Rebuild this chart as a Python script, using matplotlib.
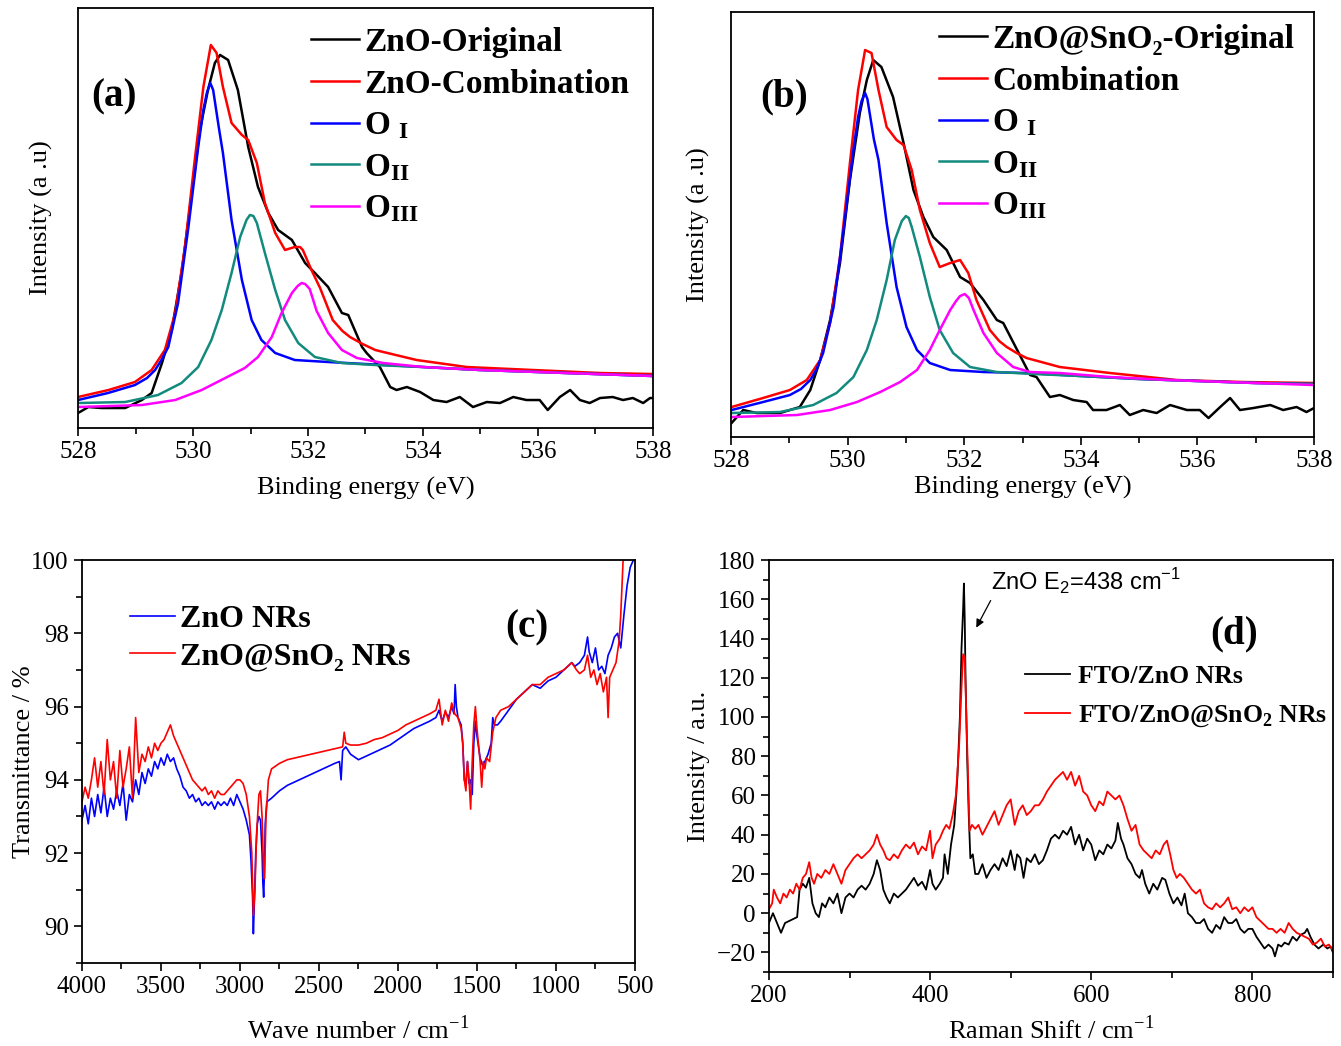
import numpy as np
import matplotlib
matplotlib.use('Agg')
import matplotlib.pyplot as plt
from matplotlib.ticker import MultipleLocator

plt.rcParams['font.family'] = ['Liberation Serif', 'DejaVu Serif']
plt.rcParams['mathtext.fontset'] = 'custom'
plt.rcParams['mathtext.rm'] = 'Liberation Serif'
plt.rcParams['mathtext.bf'] = 'Liberation Serif:bold'
plt.rcParams['mathtext.sf'] = 'Liberation Sans'

# ---------------- (a) XPS O1s, ZnO ----------------
a_orig_x = [528.0, 528.18, 528.41, 528.82, 529.11, 529.28, 529.46, 529.63, 529.80, 529.98,
            530.12, 530.26, 530.38, 530.47, 530.61, 530.78, 530.96, 531.13, 531.31, 531.48,
            531.72, 531.95, 532.12, 532.35, 532.59, 532.70, 532.94, 533.02, 533.25, 533.43,
            533.54, 533.72, 533.95, 534.18, 534.41, 534.64, 534.87, 535.11, 535.34, 535.57,
            535.80, 536.03, 536.17, 536.38, 536.56, 536.73, 536.90, 537.08, 537.30, 537.48,
            537.65, 537.83, 537.95, 538.0]
a_orig_y = [15, 21, 20, 20, 28, 35, 65, 98, 155, 235,
            298, 338, 365, 373, 368, 338, 281, 241, 215, 198,
            188, 165, 155, 141, 115, 113, 81, 75, 61, 41,
            38, 41, 36, 28, 26, 31, 21, 26, 25, 31,
            28, 28, 18, 31, 38, 28, 25, 30, 31, 28,
            30, 25, 30, 30]
a_comb_x = [528.0, 528.53, 528.99, 529.28, 529.51, 529.69, 529.86, 530.03, 530.18, 530.31,
            530.41, 530.52, 530.67, 530.85, 530.96, 531.11, 531.25, 531.43, 531.60, 531.77,
            531.86, 531.91, 532.06, 532.21, 532.43, 532.60, 532.73, 532.95, 533.17, 533.31,
            533.89, 534.76, 535.92, 537.08, 538.0]
a_comb_y = [31, 38, 46, 58, 78, 115, 181, 268, 341, 383,
            375, 341, 305, 293, 288, 265, 225, 195, 178, 181,
            181, 178, 158, 140, 108, 97, 91, 84, 78, 76,
            68, 61, 58, 55, 54]
a_o1_x = [528.0, 528.52, 528.99, 529.20, 529.34, 529.45, 529.57, 529.74, 529.92, 530.09,
          530.18, 530.24, 530.30, 530.35, 530.45, 530.52, 530.67, 530.85, 531.02, 531.19,
          531.43, 531.77, 532.35, 533.0, 534.0, 535.0, 536.0, 537.0, 538.0]
a_o1_y = [28, 35, 43, 50, 58, 68, 81, 125, 201, 281,
          318, 335, 345, 338, 300, 275, 208, 148, 108, 88,
          75, 68, 66, 64, 61, 58, 56, 54, 52]
a_o2_x = [528.0, 528.82, 529.39, 529.80, 530.09, 530.32, 530.50, 530.67, 530.82, 530.93,
          530.99, 531.05, 531.11, 531.25, 531.43, 531.60, 531.83, 532.12, 532.59, 533.17,
          534.0, 535.0, 536.0, 537.0, 538.0]
a_o2_y = [25, 26, 33, 45, 61, 88, 118, 155, 191, 208,
          213, 212, 205, 175, 138, 108, 85, 71, 65, 63,
          61, 58, 56, 54, 52]
a_o3_x = [528.0, 529.11, 529.69, 530.15, 530.56, 530.90, 531.13, 531.37, 531.54, 531.72,
          531.82, 531.89, 531.95, 532.03, 532.15, 532.35, 532.59, 532.85, 533.31, 534.0,
          535.0, 536.0, 537.0, 538.0]
a_o3_y = [21, 23, 28, 38, 50, 60, 71, 91, 115, 135,
          142, 145, 144, 139, 117, 95, 78, 70, 65, 61,
          58, 56, 54, 52]

# ---------------- (b) XPS O1s, ZnO@SnO2 ----------------
b_orig_x = [528.01, 528.21, 528.44, 528.84, 529.18, 529.36, 529.53, 529.70, 529.87, 530.04,
            530.21, 530.33, 530.44, 530.58, 530.78, 530.96, 531.13, 531.30, 531.47, 531.70,
            531.93, 532.10, 532.33, 532.56, 532.67, 532.90, 533.13, 533.24, 533.47, 533.64,
            533.87, 534.10, 534.21, 534.44, 534.67, 534.84, 535.07, 535.30, 535.53, 535.82,
            536.04, 536.19, 536.39, 536.56, 536.73, 536.96, 537.25, 537.47, 537.70, 537.87,
            538.0]
b_orig_y = [14, 27, 24, 24, 30, 47, 77, 117, 174, 257,
            324, 357, 377, 370, 340, 294, 247, 220, 200, 187,
            160, 154, 137, 117, 114, 88, 62, 60, 40, 42,
            37, 35, 27, 27, 32, 22, 27, 24, 32, 27,
            27, 19, 30, 39, 27, 29, 32, 27, 30, 25,
            29]
b_comb_x = [528.01, 528.55, 529.01, 529.30, 529.53, 529.70, 529.87, 530.04, 530.18, 530.30,
            530.41, 530.53, 530.67, 530.84, 530.96, 531.10, 531.24, 531.41, 531.58, 531.76,
            531.93, 532.07, 532.21, 532.44, 532.60, 532.73, 532.90, 533.07, 533.64, 534.50,
            535.65, 536.79, 538.0]
b_comb_y = [30, 39, 47, 57, 77, 114, 180, 274, 347, 387,
            384, 347, 310, 297, 292, 267, 227, 194, 170, 174,
            177, 164, 137, 107, 96, 90, 84, 79, 70, 64,
            57, 55, 54]
b_o1_x = [528.01, 528.55, 529.01, 529.20, 529.36, 529.47, 529.58, 529.76, 529.93, 530.10,
          530.18, 530.24, 530.30, 530.34, 530.45, 530.53, 530.67, 530.84, 531.01, 531.19,
          531.41, 531.76, 532.33, 533.07, 534.0, 535.0, 536.0, 537.0, 538.0]
b_o1_y = [27, 35, 42, 48, 57, 68, 84, 130, 207, 287,
          320, 336, 344, 338, 298, 277, 214, 150, 110, 87,
          74, 67, 65, 64, 61, 58, 56, 54, 53]
b_o2_x = [528.01, 528.84, 529.41, 529.81, 530.10, 530.33, 530.50, 530.67, 530.81, 530.93,
          531.00, 531.05, 531.10, 531.24, 531.41, 531.58, 531.81, 532.10, 532.56, 533.2,
          534.0, 535.0, 536.0, 537.0, 538.0]
b_o2_y = [24, 25, 32, 44, 60, 87, 117, 157, 197, 216,
          221, 219, 210, 180, 140, 107, 84, 70, 65, 63,
          61, 58, 56, 54, 53]
b_o3_x = [528.01, 529.13, 529.70, 530.16, 530.56, 530.90, 531.19, 531.41, 531.58, 531.76,
          531.86, 531.93, 532.01, 532.08, 532.16, 532.33, 532.56, 532.84, 533.13, 533.64,
          534.5, 535.5, 536.5, 538.0]
b_o3_y = [20, 22, 27, 35, 45, 55, 67, 87, 107, 127,
          136, 141, 143, 139, 127, 104, 84, 70, 65, 64,
          60, 57, 55, 52]

# ---------------- (c) FTIR ----------------
c_zno_x = [4000, 3980, 3960, 3940, 3920, 3900, 3880, 3860, 3840, 3820,
           3800, 3780, 3760, 3740, 3720, 3700, 3680, 3660, 3640, 3620,
           3600, 3580, 3560, 3540, 3520, 3500, 3480, 3460, 3440, 3420,
           3400, 3380, 3360, 3340, 3320, 3300, 3280, 3260, 3240, 3220,
           3200, 3180, 3160, 3140, 3120, 3100, 3080, 3060, 3040, 3020,
           3000, 2980, 2960, 2940, 2930, 2920, 2915, 2910, 2900, 2890,
           2880, 2870, 2860, 2855, 2850, 2845, 2840, 2830, 2800, 2750,
           2700, 2650, 2600, 2550, 2500, 2450, 2400, 2370, 2360, 2350,
           2330, 2300, 2250, 2200, 2150, 2100, 2050, 2000, 1950, 1900,
           1850, 1800, 1760, 1740, 1720, 1700, 1680, 1660, 1645, 1638,
           1630, 1620, 1600, 1590, 1580, 1570, 1560, 1550, 1540, 1530,
           1520, 1510, 1500, 1480, 1465, 1450, 1430, 1410, 1400, 1390,
           1370, 1350, 1300, 1250, 1200, 1150, 1100, 1050, 1000, 950,
           900, 880, 850, 820, 800, 790, 770, 750, 730, 710,
           690, 670, 650, 630, 610, 590, 570, 550, 530, 510]
c_zno_y = [92.9, 93.3, 92.8, 93.5, 93.0, 93.6, 93.1, 93.8, 93.0, 93.5,
           93.2, 93.7, 93.3, 93.9, 92.9, 93.6, 93.4, 94.0, 93.6, 94.2,
           93.9, 94.3, 94.1, 94.5, 94.3, 94.6, 94.4, 94.7, 94.5, 94.6,
           94.3, 94.1, 93.8, 93.7, 93.5, 93.6, 93.4, 93.5, 93.3, 93.4,
           93.3, 93.4, 93.2, 93.4, 93.3, 93.4, 93.3, 93.5, 93.3, 93.6,
           93.4, 93.2, 92.9, 92.5, 91.8, 90.8, 89.8, 90.5, 92.0, 92.8,
           93.0, 92.9, 92.0, 91.2, 90.8, 91.5, 92.8, 93.4, 93.5, 93.7,
           93.85, 93.95, 94.05, 94.15, 94.25, 94.35, 94.45, 94.5, 94.0, 94.8,
           94.9, 94.7, 94.55, 94.65, 94.75, 94.85, 94.95, 95.1, 95.25, 95.4,
           95.5, 95.6, 95.7, 95.9, 95.6, 95.85, 95.7, 96.0, 95.8, 96.6,
           96.0, 95.7, 95.5, 95.0, 94.0, 93.9, 94.5, 93.9, 94.0, 93.6,
           95.0, 95.6, 95.2, 94.6, 94.4, 94.5, 94.7, 95.0, 95.7, 95.5,
           95.5, 95.6, 95.9, 96.2, 96.4, 96.6, 96.5, 96.7, 96.8, 97.0,
           97.2, 97.1, 97.2, 97.4, 97.9, 97.5, 97.2, 97.6, 97.0, 97.1,
           96.9, 97.4, 97.6, 97.9, 98.0, 97.6, 98.5, 99.3, 99.8, 100.0]
c_sno_x = [4000, 3980, 3960, 3940, 3920, 3900, 3880, 3860, 3840, 3820,
           3800, 3780, 3760, 3740, 3720, 3700, 3680, 3660, 3640, 3620,
           3600, 3580, 3560, 3540, 3520, 3500, 3480, 3460, 3440, 3420,
           3400, 3380, 3360, 3340, 3320, 3300, 3280, 3260, 3240, 3220,
           3200, 3180, 3160, 3140, 3120, 3100, 3080, 3060, 3040, 3020,
           3000, 2980, 2960, 2940, 2925, 2915, 2905, 2895, 2880, 2870,
           2860, 2850, 2845, 2835, 2820, 2800, 2750, 2700, 2650, 2600,
           2550, 2500, 2450, 2400, 2350, 2340, 2330, 2300, 2250, 2200,
           2150, 2100, 2050, 2000, 1950, 1900, 1850, 1800, 1760, 1740,
           1720, 1700, 1680, 1660, 1640, 1620, 1600, 1590, 1580, 1570,
           1560, 1550, 1540, 1530, 1520, 1510, 1500, 1480, 1470, 1460,
           1450, 1440, 1420, 1400, 1380, 1350, 1300, 1250, 1200, 1150,
           1100, 1050, 1000, 950, 900, 870, 850, 820, 800, 780,
           760, 740, 720, 700, 680, 670, 660, 640, 620, 600,
           590, 580, 575]
c_sno_y = [93.4, 93.8, 93.5, 94.0, 94.6, 93.8, 94.5, 93.6, 95.1, 94.0,
           94.5, 93.5, 94.8, 93.8, 94.3, 94.9, 93.5, 95.7, 94.2, 94.7,
           94.5, 94.9, 94.6, 95.0, 94.8, 95.0, 95.1, 95.3, 95.5, 95.2,
           95.0, 94.8, 94.6, 94.4, 94.2, 94.0, 93.9, 93.8, 93.7, 93.8,
           93.6, 93.7, 93.5, 93.7, 93.6, 93.6, 93.7, 93.8, 93.9, 94.0,
           94.0, 93.9, 93.6, 93.0, 92.0, 90.3, 91.0, 92.5, 93.6, 93.7,
           93.0, 91.5, 91.3, 93.0, 94.0, 94.3, 94.45, 94.55, 94.6, 94.65,
           94.7, 94.75, 94.8, 94.85, 94.9, 95.3, 95.0, 94.95, 94.95, 95.0,
           95.1, 95.15, 95.25, 95.35, 95.5, 95.6, 95.7, 95.8, 95.9, 96.2,
           95.5, 95.9, 95.6, 96.1, 95.8, 95.7, 95.4, 95.0, 94.0, 93.7,
           94.5, 94.0, 93.2, 94.5, 95.5, 96.0, 95.4, 94.5, 93.8, 94.5,
           94.3, 94.6, 94.5, 95.3, 95.7, 95.9, 96.0, 96.2, 96.4, 96.6,
           96.6, 96.8, 96.9, 97.0, 97.2, 97.0, 96.9, 97.0, 97.4, 96.8,
           97.0, 96.6, 96.9, 96.4, 96.8, 95.7, 96.8, 97.0, 97.2, 97.8,
           98.5, 99.5, 100.0]

# ---------------- (d) Raman ----------------
d_zno_x = [200, 205, 210, 215, 220, 225, 230, 235, 238, 242, 246, 250, 254, 258, 262, 266,
           270, 275, 280, 285, 290, 295, 300, 305, 310, 315, 320, 325, 330, 334, 338, 342,
           346, 350, 355, 360, 365, 370, 375, 380, 385, 390, 395, 400, 403, 407, 412, 416,
           418, 422, 426, 430, 434, 437, 439, 441, 442, 443, 444, 446, 448, 450, 453, 456,
           460, 465, 470, 475, 480, 485, 490, 495, 500, 505, 508, 512, 516, 520, 525, 530,
           535, 540, 545, 550, 555, 560, 565, 570, 575, 580, 585, 590, 595, 600, 605, 610,
           615, 620, 625, 630, 633, 637, 640, 645, 650, 655, 660, 663, 667, 672, 677, 682,
           688, 692, 697, 702, 707, 712, 716, 720, 725, 730, 735, 740, 745, 750, 755, 760,
           765, 770, 775, 780, 785, 790, 795, 800, 805, 810, 815, 820, 825, 828, 832, 836,
           840, 845, 850, 855, 860, 865, 868, 872, 877, 882, 888, 893, 897, 900]
d_zno_y = [-5, 0, -5, -10, -5, -4, -3, -2, 12, 15, 13, 18, 5, 0, -2, 5,
           3, 8, 5, 10, 0, 8, 10, 8, 12, 14, 12, 15, 20, 27, 22, 12,
           8, 5, 10, 8, 10, 12, 15, 18, 14, 16, 12, 22, 15, 12, 15, 18,
           30, 20, 35, 45, 70, 100, 135, 155, 168, 150, 120, 80, 50, 28, 30, 20,
           20, 25, 18, 22, 25, 22, 28, 24, 32, 22, 30, 28, 18, 28, 26, 30,
           25, 27, 32, 38, 40, 38, 42, 40, 44, 35, 40, 32, 38, 35, 27, 32,
           30, 35, 33, 37, 46, 38, 35, 28, 25, 20, 18, 22, 15, 10, 15, 12,
           18, 17, 10, 5, 8, 4, 10, 0, -2, -5, -5, -3, -8, -10, -6, -8,
           -2, -5, -5, -3, -8, -10, -8, -8, -12, -15, -18, -16, -18, -22, -16, -17,
           -15, -16, -12, -14, -11, -10, -8, -12, -16, -18, -16, -18, -17, -20]
d_sno_x = [200, 204, 206, 210, 214, 218, 222, 226, 230, 234, 238, 242, 246, 250, 253, 256,
           260, 265, 270, 275, 280, 285, 290, 295, 300, 305, 310, 315, 320, 325, 330, 334,
           338, 342, 346, 350, 355, 360, 365, 370, 375, 380, 385, 390, 395, 400, 403, 407,
           412, 416, 420, 424, 428, 432, 436, 439, 441, 443, 445, 447, 449, 452, 456, 460,
           465, 470, 475, 480, 485, 490, 495, 500, 505, 510, 515, 520, 525, 530, 535, 540,
           545, 550, 555, 560, 565, 570, 575, 580, 585, 590, 595, 600, 605, 610, 615, 620,
           625, 630, 635, 640, 645, 650, 655, 660, 665, 670, 675, 680, 685, 690, 694, 698,
           702, 706, 710, 715, 720, 725, 730, 735, 740, 745, 750, 755, 760, 765, 770, 775,
           780, 785, 790, 795, 800, 805, 810, 815, 820, 825, 830, 835, 840, 845, 850, 855,
           860, 865, 870, 875, 880, 885, 890, 895, 900]
d_sno_y = [2, 5, 12, 8, 5, 10, 8, 12, 10, 15, 12, 18, 20, 26, 18, 15,
           20, 18, 22, 20, 25, 20, 15, 22, 25, 28, 30, 28, 30, 32, 35, 40,
           35, 32, 28, 27, 30, 28, 32, 35, 33, 36, 30, 34, 32, 42, 28, 35,
           38, 42, 45, 43, 50, 60, 85, 115, 132, 130, 100, 70, 42, 45, 43, 45,
           40, 44, 48, 52, 45, 50, 55, 58, 45, 52, 55, 50, 52, 55, 55, 58,
           62, 65, 68, 70, 72, 68, 72, 65, 70, 62, 60, 55, 52, 57, 55, 62,
           60, 58, 60, 55, 48, 42, 45, 35, 32, 30, 28, 32, 30, 35, 37, 30,
           22, 18, 20, 18, 15, 12, 10, 12, 5, 3, 2, 5, 3, 5, 8, 2,
           3, 0, 3, 1, 3, -2, -4, -6, -8, -8, -10, -8, -10, -5, -8, -10,
           -11, -12, -13, -16, -15, -13, -17, -16, -19]

xps_labels_a = ['ZnO-Original', 'ZnO-Combination', r'O $\mathbf{_I}$', r'O$\mathbf{_{II}}$', r'O$\mathbf{_{III}}$']
xps_labels_b = ['ZnO@SnO\u2082-Original', 'Combination', r'O $\mathbf{_I}$', r'O$\mathbf{_{II}}$', r'O$\mathbf{_{III}}$']
xps_colors = ['black', 'red', 'blue', '#138a7e', 'magenta']

fig = plt.figure(figsize=(13.41, 10.46), dpi=100)
ax_a = fig.add_axes([0.0582, 0.5908, 0.4287, 0.4016])
ax_b = fig.add_axes([0.5451, 0.5822, 0.4348, 0.4063])
ax_c = fig.add_axes([0.0611, 0.0793, 0.4124, 0.3853])
ax_d = fig.add_axes([0.5734, 0.0707, 0.4206, 0.3939])

TICK = 18
LAB = 19


def style(ax):
    for s in ax.spines.values():
        s.set_linewidth(1.3)
    ax.tick_params(direction='out', labelsize=TICK, width=1.2, length=6, top=False, right=False)
    ax.tick_params(which='minor', direction='out', width=1.2, length=4, top=False, right=False)


# XPS panels
for ax, data, labels, tag, ymax, yl_x, xl_y, leg_anchor, tag_pos in [
        (ax_a, [(a_orig_x, a_orig_y), (a_comb_x, a_comb_y), (a_o1_x, a_o1_y), (a_o2_x, a_o2_y), (a_o3_x, a_o3_y)],
         xps_labels_a, '(a)', 420, -0.0435, -0.117, (0.405, 0.955), (0.063, 0.788)),
        (ax_b, [(b_orig_x, b_orig_y), (b_comb_x, b_comb_y), (b_o1_x, b_o1_y), (b_o2_x, b_o2_y), (b_o3_x, b_o3_y)],
         xps_labels_b, '(b)', 425, -0.036, -0.092, (0.356, 0.972), (0.091, 0.80))]:
    for (x, y), lab, col in zip(data, labels, xps_colors):
        ax.plot(x, y, color=col, lw=1.8, label=lab)
    ax.set_xlim(528, 538)
    ax.set_ylim(0, ymax)
    ax.xaxis.set_major_locator(MultipleLocator(2))
    ax.xaxis.set_minor_locator(MultipleLocator(1))
    ax.set_yticks([])
    style(ax)
    ax.set_xlabel('Binding energy (eV)', fontsize=LAB)
    ax.set_ylabel('Intensity (a .u)', fontsize=LAB)
    ax.xaxis.set_label_coords(0.5, xl_y)
    ax.yaxis.set_label_coords(yl_x, 0.5)
    ax.legend(loc='upper left', bbox_to_anchor=leg_anchor, frameon=False, borderpad=0,
              borderaxespad=0, handlelength=1.45, handletextpad=0.15, labelspacing=0.32,
              prop={'weight': 'bold', 'size': 24})
    ax.text(tag_pos[0], tag_pos[1], tag, transform=ax.transAxes, fontsize=28,
            fontweight='bold', ha='center', va='center')

# FTIR panel
ax_c.plot(c_zno_x, c_zno_y, color='blue', lw=1.2, label='ZnO NRs')
ax_c.plot(c_sno_x, c_sno_y, color='red', lw=1.2, label='ZnO@SnO\u2082 NRs')
ax_c.set_xlim(4000, 500)
ax_c.set_ylim(89.0, 100)
ax_c.set_xticks([4000, 3500, 3000, 2500, 2000, 1500, 1000, 500])
ax_c.xaxis.set_minor_locator(MultipleLocator(250))
ax_c.set_yticks([90, 92, 94, 96, 98, 100])
ax_c.yaxis.set_minor_locator(MultipleLocator(1))
style(ax_c)
ax_c.set_xlabel('Wave number / cm$^{-1}$', fontsize=LAB)
ax_c.set_ylabel('Transmittance / %', fontsize=LAB)
ax_c.xaxis.set_label_coords(0.5, -0.129)
ax_c.yaxis.set_label_coords(-0.085, 0.5)
ax_c.legend(loc='upper left', bbox_to_anchor=(0.087, 0.890), frameon=False, borderpad=0,
            borderaxespad=0, handlelength=1.4, handletextpad=0.16, labelspacing=0.26,
            prop={'weight': 'bold', 'size': 23})
ax_c.text(0.805, 0.831, '(c)', transform=ax_c.transAxes, fontsize=28,
          fontweight='bold', ha='center', va='center')

# Raman panel
ax_d.plot(d_zno_x, d_zno_y, color='black', lw=1.3, label='FTO/ZnO NRs')
ax_d.plot(d_sno_x, d_sno_y, color='red', lw=1.3, label='FTO/ZnO@SnO$_\\mathbf{2}$ NRs')
ax_d.set_xlim(200, 900)
ax_d.set_ylim(-30, 180)
ax_d.set_xticks([200, 400, 600, 800])
ax_d.xaxis.set_minor_locator(MultipleLocator(100))
ax_d.set_yticks(np.arange(-20, 181, 20))
ax_d.yaxis.set_minor_locator(MultipleLocator(10))
style(ax_d)
ax_d.set_xlabel('Raman Shift / cm$^{-1}$', fontsize=LAB)
ax_d.set_ylabel('Intensity / a.u.', fontsize=LAB)
ax_d.xaxis.set_label_coords(0.5, -0.104)
ax_d.yaxis.set_label_coords(-0.105, 0.5)
ax_d.legend(loc='upper left', bbox_to_anchor=(0.454, 0.745), frameon=False, borderpad=0,
            borderaxespad=0, handlelength=1.75, handletextpad=0.3, labelspacing=0.6,
            prop={'weight': 'bold', 'size': 18.5})
ax_d.text(0.824, 0.82, '(d)', transform=ax_d.transAxes, fontsize=28,
          fontweight='bold', ha='center', va='center')
ax_d.text(593, 169, r'ZnO E$_\mathsf{2}$=438 cm$^\mathsf{-1}$', fontsize=17,
          family='Liberation Sans', ha='center', va='center')
ax_d.annotate('', xy=(455.7, 144.3), xytext=(476.8, 160.6),
              arrowprops=dict(arrowstyle='-|>', color='black', lw=0.9, mutation_scale=12))

fig.savefig('out.png', dpi=100)
